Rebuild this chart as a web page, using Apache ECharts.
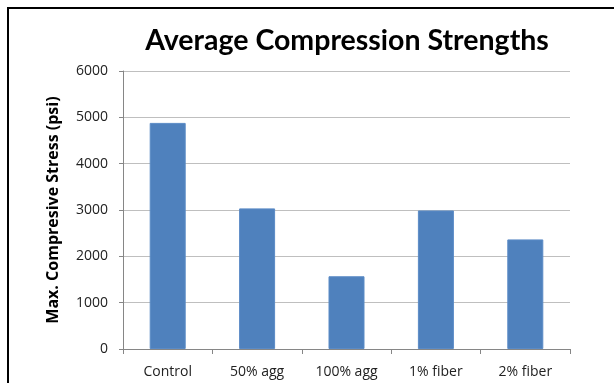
<!DOCTYPE html>
<html>
<head>
<meta charset="utf-8">
<script src="https://cdn.jsdelivr.net/npm/echarts@6/dist/echarts.min.js"></script>
<style>
html,body{margin:0;padding:0;background:#fff;}
#c{width:614px;height:383px;}
</style>
</head>
<body>
<div id="c"></div>
<script>
var titleText = 'Average Compression Strengths';
var yAxisName = 'Max. Compresive Stress (psi)';
var categories = ['Control', '50% agg', '100% agg', '1% fiber', '2% fiber'];
var strengths = [4880, 3035, 1570, 2990, 2365];
var yMin = 0, yMax = 6000, yStep = 1000;

var chart = echarts.init(document.getElementById('c'), null, {renderer: 'canvas'});
chart.setOption({
  animation: false,
  backgroundColor: '#fff',
  title: {
    text: titleText,
    left: 342, top: 21, textAlign: 'center',
    textStyle: {fontFamily: 'Lato', fontWeight: 'bold', fontSize: 28.5, color: '#000'}
  },
  graphic: [{
    type: 'rect', silent: true,
    shape: {x: 8, y: 8, width: 800, height: 600},
    style: {fill: 'none', stroke: '#000', lineWidth: 2}
  }],
  grid: {left: 123, right: 44, top: 71, bottom: 34, containLabel: false},
  xAxis: {
    type: 'category', data: categories,
    axisLine: {show: true, lineStyle: {color: '#868686', width: 1}},
    axisTick: {show: true, length: 5, alignWithLabel: false, lineStyle: {color: '#868686'}},
    axisLabel: {margin: 16, fontFamily: 'Open Sans', fontSize: 14, color: '#222'},
    splitLine: {show: false}
  },
  yAxis: {
    type: 'value', min: yMin, max: yMax, interval: yStep,
    name: yAxisName, nameLocation: 'middle', nameGap: 62, nameRotate: 90,
    nameTextStyle: {fontFamily: 'Open Sans', fontWeight: 'bold', fontSize: 16, color: '#000'},
    axisLine: {show: true, lineStyle: {color: '#868686', width: 1}},
    axisTick: {show: true, length: 4, lineStyle: {color: '#868686'}},
    axisLabel: {margin: 15, fontFamily: 'Open Sans', fontSize: 14, color: '#222',
      formatter: function (v) { return String(v); }},
    splitLine: {show: true, lineStyle: {color: '#BFBFBF', width: 1}}
  },
  series: [{
    type: 'bar', data: strengths, barWidth: 36,
    itemStyle: {color: '#4F81BD', borderColor: '#5B8BC6', borderWidth: 1}
  }]
});
</script>
</body>
</html>
